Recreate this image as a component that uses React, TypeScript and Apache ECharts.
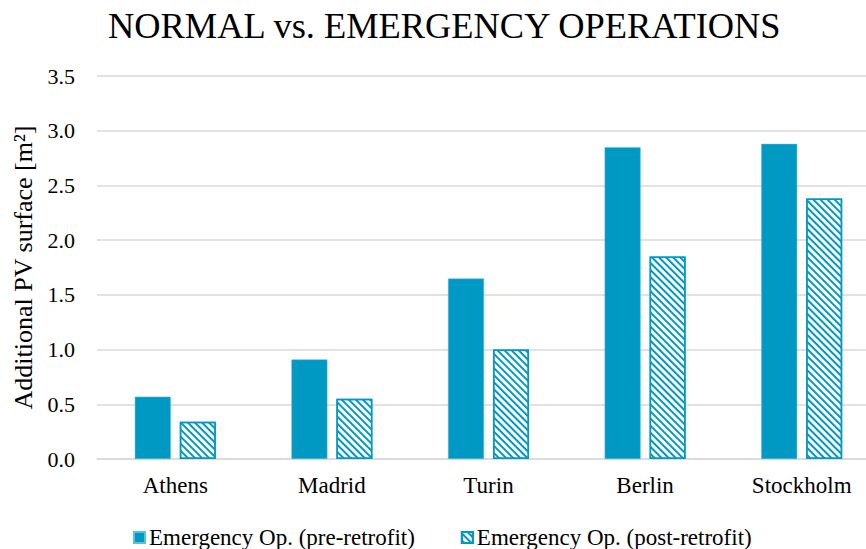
import React, { useEffect, useRef } from "react";
import * as echarts from "echarts";

const categories = ["Athens", "Madrid", "Turin", "Berlin", "Stockholm"];
const preRetrofit = [0.57, 0.91, 1.65, 2.85, 2.88];
const postRetrofit = [0.34, 0.55, 1.0, 1.85, 2.38];
const seriesNames = ["Emergency Op. (pre-retrofit)", "Emergency Op. (post-retrofit)"];
const titleText = "NORMAL vs. EMERGENCY OPERATIONS";
const yAxisName = "Additional PV surface [m²]";

const BLUE = "#0099C4";
const FONT = "Liberation Serif";

export default function App() {
  const ref = useRef<HTMLDivElement>(null);
  useEffect(() => {
    if (!ref.current) return;
    const chart = echarts.init(ref.current, undefined, { renderer: "svg" });
    chart.setOption({
      animation: false,
      backgroundColor: "#ffffff",
      textStyle: { fontFamily: FONT },
      title: {
        text: titleText,
        left: 103,
        top: 3,
        textStyle: { fontFamily: FONT, fontSize: 36.4, fontWeight: "normal", color: "#000" },
      },
      legend: {
        top: 521,
        left: 128,
        itemWidth: 11,
        itemHeight: 11,
        itemGap: 46,
        textStyle: { fontFamily: FONT, fontSize: 23, color: "#000", padding: [0, 0, 0, -1] },
        data: [
          { name: seriesNames[0], icon: "rect" },
          { name: seriesNames[1], icon: "rect" },
        ],
      },
      grid: { left: 97, width: 783, top: 76, bottom: 90, outerBoundsMode: "none", containLabel: false },
      xAxis: {
        type: "category",
        data: categories,
        axisLine: { lineStyle: { color: "#D9D9D9", width: 1.5 } },
        axisTick: { show: false },
        axisLabel: { fontFamily: FONT, fontSize: 23, color: "#000", margin: 15 },
      },
      yAxis: {
        type: "value",
        min: 0,
        max: 3.5,
        interval: 0.5,
        name: yAxisName,
        nameLocation: "middle",
        nameGap: 58,
        nameTextStyle: { fontFamily: FONT, fontSize: 26, color: "#000" },
        axisLabel: {
          fontFamily: FONT,
          fontSize: 22,
          color: "#000",
          margin: 22,
          formatter: (v: number) => v.toFixed(1),
        },
        splitLine: { lineStyle: { color: "#D9D9D9", width: 1.5 } },
      },
      series: [
        {
          name: seriesNames[0],
          type: "bar",
          data: preRetrofit,
          barWidth: 36,
          barGap: "25%",
          itemStyle: { color: BLUE, borderColor: "#5BC0DE", borderWidth: 0.5 },
        },
        {
          name: seriesNames[1],
          type: "bar",
          data: postRetrofit,
          barWidth: 36,
          itemStyle: {
            color: "#ffffff",
            borderColor: BLUE,
            borderWidth: 1.5,
            decal: {
              symbol: "rect",
              symbolSize: 1,
              color: BLUE,
              dashArrayX: [1, 0],
              dashArrayY: [2, 2.5],
              rotation: Math.PI / 4,
            },
          },
        },
      ],
    });
    return () => chart.dispose();
  }, []);
  return (
    <div
      ref={ref}
      style={{ position: "fixed", left: 0, top: 0, width: 866, height: 549 }}
    />
  );
}
